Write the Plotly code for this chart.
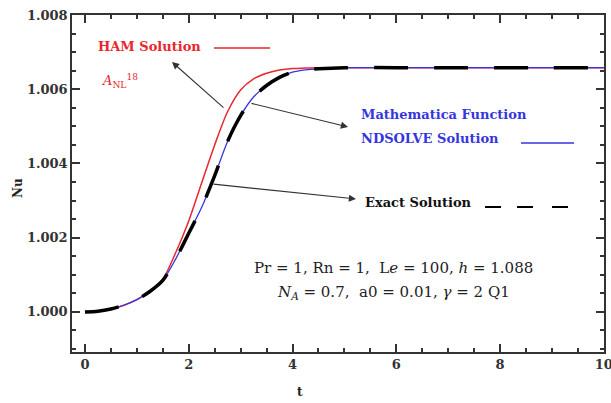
import plotly.graph_objects as go

# ---- data ----
t_exact = [0, 0.25, 0.5, 0.75, 1.0, 1.25, 1.5, 1.75, 2.0, 2.25, 2.5, 2.75, 3.0, 3.25, 3.5, 3.75, 4.0, 4.25,
           4.5, 5, 6, 7, 8, 9, 10]
nu_exact = [1.00000, 1.00002, 1.00008, 1.00018, 1.00033, 1.00055, 1.00085, 1.00143, 1.00212, 1.00282,
            1.00367, 1.00460, 1.00529, 1.00579, 1.00610, 1.00632, 1.00646, 1.00652, 1.00655, 1.00658,
            1.00658, 1.00658, 1.00658, 1.00658, 1.00658]
t_nds = [0, 0.25, 0.5, 0.75, 1.0, 1.25, 1.5, 1.75, 2.0, 2.25, 2.5, 2.75, 3.0, 3.25, 3.5, 3.75, 4.0, 4.25,
         4.5, 5, 6, 7, 8, 9, 10]
nu_nds = [1.00000, 1.00002, 1.00008, 1.00018, 1.00033, 1.00055, 1.00085, 1.00143, 1.00212, 1.00282,
          1.00367, 1.00460, 1.00529, 1.00579, 1.00610, 1.00632, 1.00646, 1.00652, 1.00655, 1.00658,
          1.00658, 1.00658, 1.00658, 1.00658, 1.00658]
t_ham = [0, 0.25, 0.5, 0.75, 1.0, 1.25, 1.5, 1.75, 2.0, 2.25, 2.5, 2.75, 3.0, 3.25, 3.5, 3.75, 4.0, 4.25,
         4.5, 5, 6, 7, 8, 9, 10]
nu_ham = [1.00000, 1.00002, 1.00008, 1.00018, 1.00033, 1.00055, 1.00088, 1.00160, 1.00245, 1.00348,
          1.00450, 1.00540, 1.00598, 1.00628, 1.00643, 1.00652, 1.00656, 1.00657, 1.00658, 1.00658,
          1.00658, 1.00658, 1.00658, 1.00658, 1.00658]

x_ticks = [0, 2, 4, 6, 8, 10]
y_ticks = [1.000, 1.002, 1.004, 1.006, 1.008]

RED = "#e8262e"
BLUE = "#3535e0"
SERIF = "DejaVu Serif"

# plot area in pixels
L, R, T, B = 72, 604, 15, 352
W, H = 611, 403


def px(x, y):
    return (x - L) / (R - L), (B - y) / (B - T)


fig = go.Figure()
fig.add_trace(go.Scatter(x=t_ham, y=nu_ham, mode="lines",
                         line=dict(color=RED, width=1.5, shape="spline", smoothing=0.8),
                         name="HAM Solution"))
fig.add_trace(go.Scatter(x=t_nds, y=nu_nds, mode="lines",
                         line=dict(color=BLUE, width=1.3, shape="spline", smoothing=0.8),
                         name="NDSOLVE Solution"))
fig.add_trace(go.Scatter(x=t_exact, y=nu_exact, mode="lines",
                         line=dict(color="black", width=3.5, shape="spline", smoothing=0.8, dash="34px,26px"),
                         name="Exact Solution"))

ann = []


def text(x, y, s, color="black", size=13, bold=True, xanchor="left", align="left"):
    xp, yp = px(x, y)
    ann.append(dict(x=xp, y=yp, xref="paper", yref="paper", text=(f"<b>{s}</b>" if bold else s),
                    showarrow=False, xanchor=xanchor, yanchor="middle", align=align,
                    font=dict(family=SERIF, size=size, color=color)))


def arrow(hx, hy, tx, ty):
    xp, yp = px(hx, hy)
    ann.append(dict(x=xp, y=yp, xref="paper", yref="paper", text="", showarrow=True,
                    ax=tx - hx, ay=ty - hy, axref="pixel", ayref="pixel",
                    arrowhead=2, arrowsize=1.3, arrowwidth=1.1, arrowcolor="#333333"))


text(96, 47, "HAM Solution", RED, 13)
text(100, 81, "<i>A</i><sub>NL</sub><sup>18</sup>", RED, 13, bold=False)
text(359, 114, "Mathematica Function", BLUE, 13)
text(359, 138, "NDSOLVE Solution", BLUE, 13)
text(363, 203, "Exact Solution", "#111111", 13)
text(393, 268, "Pr = 1, Rn = 1,  L<i>e</i> = 100, <i>h</i> = 1.088", "#222222", 15, bold=False,
     xanchor="center", align="center")
text(393, 292, "<i>N<sub>A</sub></i> = 0.7,  a0 = 0.01, <i>γ</i> = 2 Q1", "#222222", 15, bold=False,
     xanchor="center", align="center")

arrow(172, 62, 225, 109)
arrow(348, 127, 250, 103)
arrow(356, 199, 212, 184)

# axis titles
xp, yp = px(300, 392)
ann.append(dict(x=xp, y=yp, xref="paper", yref="paper", text="<b>t</b>", showarrow=False,
                xanchor="center", yanchor="middle", font=dict(family=SERIF, size=12, color="#222222")))
xp, yp = px(18, 188)
ann.append(dict(x=xp, y=yp, xref="paper", yref="paper", text="<b>Nu</b>", showarrow=False, textangle=-90,
                xanchor="center", yanchor="middle", font=dict(family=SERIF, size=12, color="#222222")))

shapes = []


def seg(x0, y0, x1, y1, color, width):
    a, b = px(x0, y0)
    c, d = px(x1, y1)
    shapes.append(dict(type="line", xref="paper", yref="paper", x0=a, y0=b, x1=c, y1=d,
                       line=dict(color=color, width=width)))


seg(214, 48, 270, 48, RED, 1.5)
seg(521, 143, 574, 143, BLUE, 1.3)
seg(485, 207, 501, 207, "black", 2)
seg(517, 207, 533, 207, "black", 2)
seg(552, 207, 568, 207, "black", 2)

axis_common = dict(showgrid=False, zeroline=False, showline=True, linecolor="#333333", linewidth=1.5,
                   mirror="ticks", ticks="inside", ticklen=8, tickwidth=1.5, tickcolor="#333333",
                   ticklabeloverflow="allow", automargin=False,
                   tickfont=dict(family=SERIF, size=13, color="#333333"))

fig.update_layout(
    width=W, height=H,
    margin=dict(l=L, r=W - R, t=T, b=H - B, autoexpand=False),
    paper_bgcolor="white", plot_bgcolor="white",
    showlegend=False,
    annotations=ann, shapes=shapes,
    xaxis=dict(range=[-0.25, 10.004], tickmode="array", tickvals=x_ticks,
               ticktext=[f"<b>{v}</b>" for v in x_ticks],
               minor=dict(dtick=0.5, tick0=0, ticks="inside", ticklen=4, tickcolor="#333333"),
               **axis_common),
    yaxis=dict(range=[0.99892, 1.008], tickmode="array", tickvals=y_ticks,
               ticktext=[f"<b>{v:.3f}</b>" for v in y_ticks],
               minor=dict(dtick=0.0005, tick0=1.0, ticks="inside", ticklen=4, tickcolor="#333333"),
               **axis_common),
)

fig.write_html(
    "out.html", config={"displayModeBar": False},
    post_script=("document.documentElement.style.overflow='hidden';"
                 "document.body.style.overflow='hidden';"
                 "document.body.style.margin='0';document.body.style.padding='0';"))
